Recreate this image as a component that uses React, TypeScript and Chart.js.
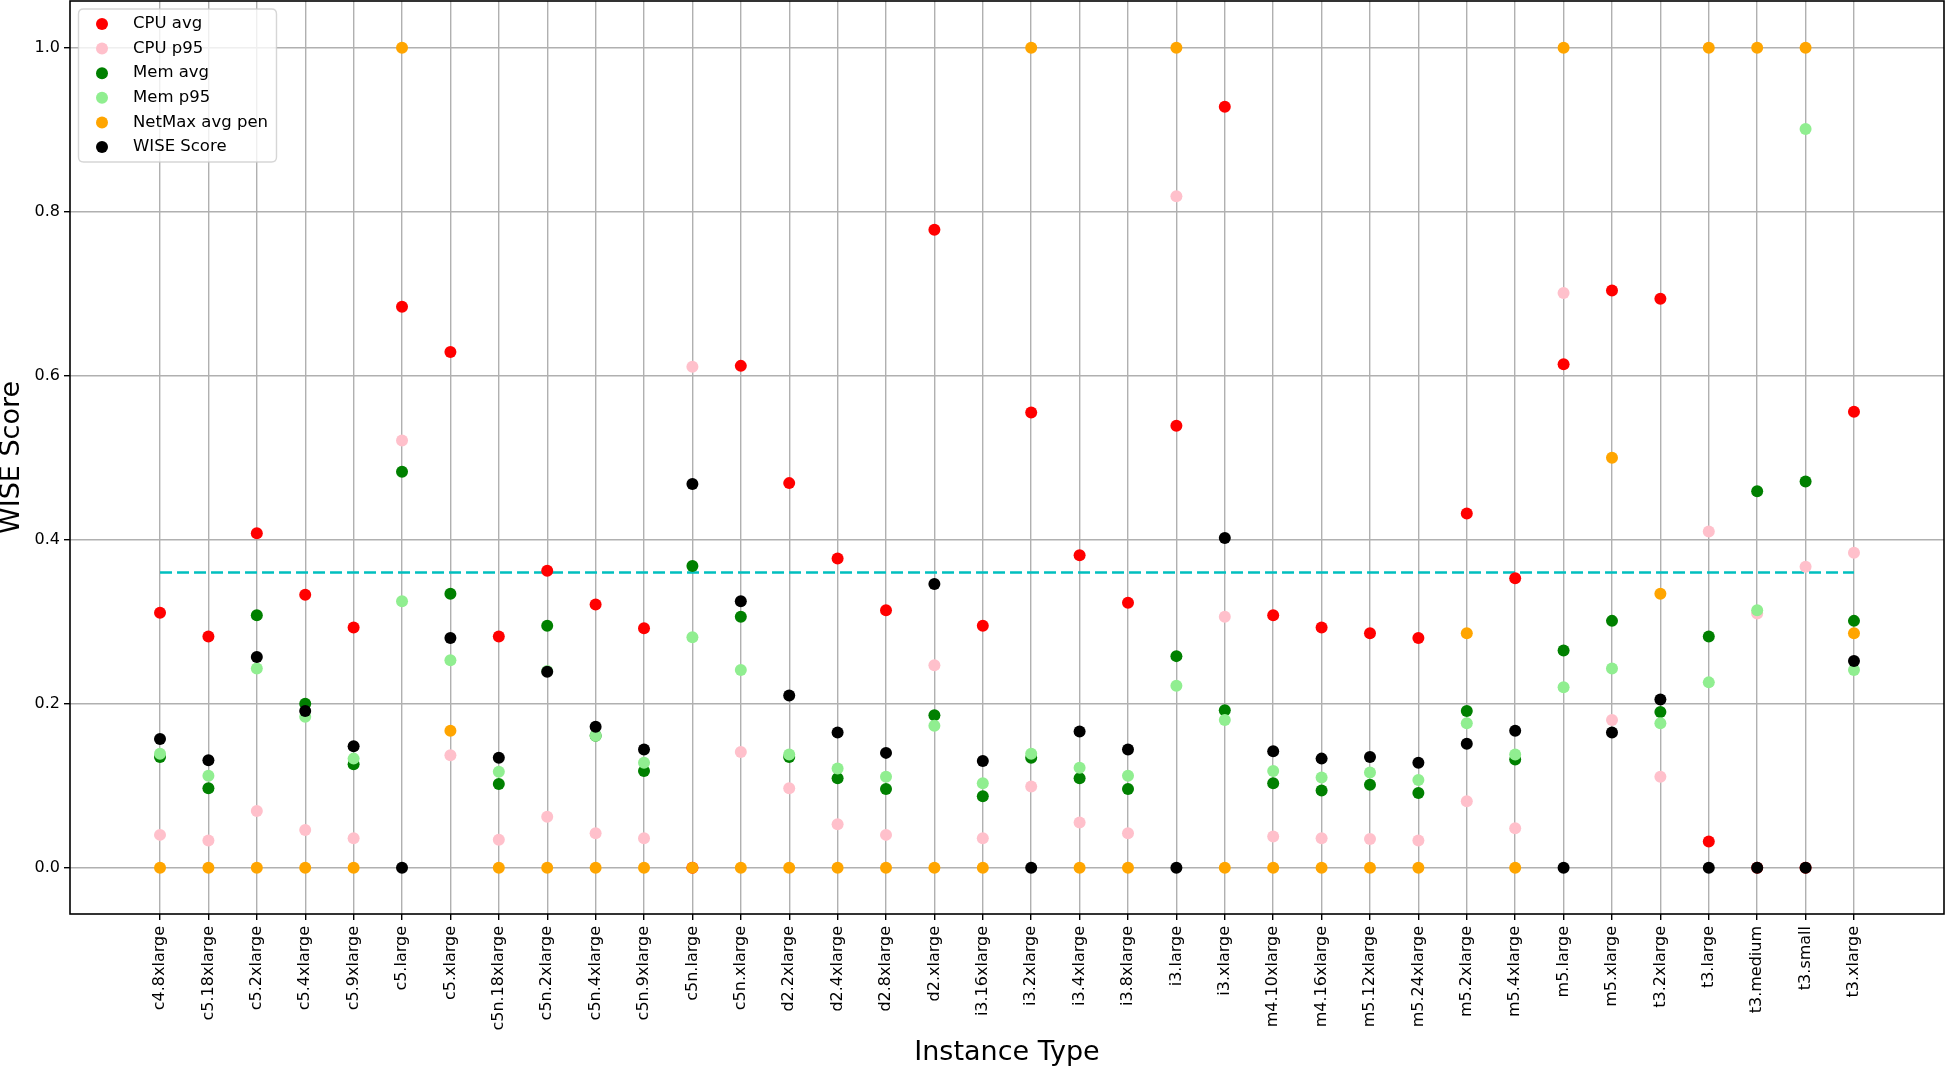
import React, { useEffect, useRef } from "react";
import { Chart, registerables } from "chart.js";

Chart.register(...registerables);

const categories = [
  "c4.8xlarge", "c5.18xlarge", "c5.2xlarge", "c5.4xlarge", "c5.9xlarge", "c5.large", "c5.xlarge",
  "c5n.18xlarge", "c5n.2xlarge", "c5n.4xlarge", "c5n.9xlarge", "c5n.large", "c5n.xlarge",
  "d2.2xlarge", "d2.4xlarge", "d2.8xlarge", "d2.xlarge", "i3.16xlarge", "i3.2xlarge", "i3.4xlarge",
  "i3.8xlarge", "i3.large", "i3.xlarge", "m4.10xlarge", "m4.16xlarge", "m5.12xlarge", "m5.24xlarge",
  "m5.2xlarge", "m5.4xlarge", "m5.large", "m5.xlarge", "t3.2xlarge", "t3.large", "t3.medium",
  "t3.small", "t3.xlarge",
];

const cpuAvg = [
  0.311, 0.282, 0.408, 0.333, 0.293, 0.684, 0.629, 0.282, 0.362, 0.321, 0.292, 0.0, 0.612,
  0.469, 0.377, 0.314, 0.778, 0.295, 0.555, 0.381, 0.323, 0.539, 0.928, 0.308, 0.293, 0.286,
  0.280, 0.432, 0.353, 0.614, 0.704, 0.694, 0.032, 0.0, 0.0, 0.556,
];

const cpuP95 = [
  0.040, 0.033, 0.069, 0.046, 0.036, 0.521, 0.137, 0.034, 0.062, 0.042, 0.036, 0.611, 0.141,
  0.097, 0.053, 0.040, 0.247, 0.036, 0.099, 0.055, 0.042, 0.819, 0.306, 0.038, 0.036, 0.035,
  0.033, 0.081, 0.048, 0.701, 0.180, 0.111, 0.410, 0.310, 0.367, 0.384,
];

const memAvg = [
  0.135, 0.097, 0.308, 0.200, 0.126, 0.483, 0.334, 0.102, 0.295, 0.161, 0.118, 0.368, 0.306,
  0.135, 0.109, 0.096, 0.186, 0.087, 0.134, 0.109, 0.096, 0.258, 0.192, 0.103, 0.094, 0.101,
  0.091, 0.191, 0.132, 0.265, 0.301, 0.190, 0.282, 0.459, 0.471, 0.301,
];

const memP95 = [
  0.139, 0.112, 0.243, 0.184, 0.133, 0.325, 0.253, 0.117, 0.240, 0.161, 0.128, 0.281, 0.241,
  0.138, 0.121, 0.111, 0.173, 0.103, 0.139, 0.122, 0.112, 0.222, 0.180, 0.118, 0.110, 0.116,
  0.107, 0.176, 0.138, 0.220, 0.243, 0.176, 0.226, 0.314, 0.901, 0.241,
];

const netMaxAvgPen = [
  0, 0, 0, 0, 0, 1.0, 0.167, 0, 0, 0, 0, 0, 0,
  0, 0, 0, 0, 0, 1.0, 0, 0, 1.0, 0, 0, 0, 0,
  0, 0.286, 0, 1.0, 0.5, 0.334, 1.0, 1.0, 1.0, 0.286,
];

const wiseScore = [
  0.157, 0.131, 0.257, 0.191, 0.148, 0.0, 0.280, 0.134, 0.239, 0.172, 0.144, 0.468, 0.325,
  0.210, 0.165, 0.140, 0.346, 0.130, 0.0, 0.166, 0.144, 0.0, 0.402, 0.142, 0.133, 0.135,
  0.128, 0.151, 0.167, 0.0, 0.165, 0.205, 0.0, 0.0, 0.0, 0.252,
];

const threshold = 0.36;
const yTicks = [0.0, 0.2, 0.4, 0.6, 0.8, 1.0];

const seriesNames = ["CPU avg", "CPU p95", "Mem avg", "Mem p95", "NetMax avg pen", "WISE Score"];
const seriesColors = ["#ff0000", "#ffc0cb", "#008000", "#90ee90", "#ffa500", "#000000"];
const seriesValues = [cpuAvg, cpuP95, memAvg, memP95, netMaxAvgPen, wiseScore];

const FONT = "'DejaVu Sans', sans-serif";

export default function App() {
  const canvasRef = useRef<HTMLCanvasElement | null>(null);

  useEffect(() => {
    document.body.style.margin = "0";
    document.body.style.overflow = "hidden";
    const canvas = canvasRef.current;
    if (!canvas) return;

    const scatterSets = seriesNames.map((name, si) => ({
      label: name,
      type: "scatter" as const,
      data: categories.map((_, i) => ({ x: i, y: seriesValues[si][i] })),
      backgroundColor: seriesColors[si],
      borderColor: seriesColors[si],
      pointRadius: 6,
      pointBorderWidth: 0,
      pointHoverRadius: 6,
      showLine: false,
      order: seriesNames.length - si,
    }));

    const lineSet = {
      label: "threshold",
      type: "line" as const,
      data: [
        { x: 0, y: threshold },
        { x: categories.length - 1, y: threshold },
      ],
      borderColor: "#00bfbf",
      borderWidth: 2.6,
      borderDash: [12, 5],
      pointRadius: 0,
      fill: false,
      showLine: true,
      order: 20,
    };

    const decor = {
      id: "decor",
      afterDraw(chart: any) {
        const ctx = chart.ctx;
        const a = chart.chartArea;
        ctx.save();
        // frame
        ctx.strokeStyle = "#000";
        ctx.lineWidth = 1.6;
        ctx.strokeRect(a.left, a.top, a.right - a.left, a.bottom - a.top);

        // legend box
        const bx = 78.5, by = 9, bw = 198, bh = 153, r = 5;
        ctx.beginPath();
        ctx.moveTo(bx + r, by);
        ctx.lineTo(bx + bw - r, by);
        ctx.quadraticCurveTo(bx + bw, by, bx + bw, by + r);
        ctx.lineTo(bx + bw, by + bh - r);
        ctx.quadraticCurveTo(bx + bw, by + bh, bx + bw - r, by + bh);
        ctx.lineTo(bx + r, by + bh);
        ctx.quadraticCurveTo(bx, by + bh, bx, by + bh - r);
        ctx.lineTo(bx, by + r);
        ctx.quadraticCurveTo(bx, by, bx + r, by);
        ctx.closePath();
        ctx.fillStyle = "rgba(255,255,255,0.8)";
        ctx.fill();
        ctx.strokeStyle = "rgba(204,204,204,0.8)";
        ctx.lineWidth = 1.4;
        ctx.stroke();

        ctx.font = `16.5px ${FONT}`;
        ctx.textBaseline = "middle";
        ctx.textAlign = "left";
        seriesNames.forEach((name, i) => {
          const yy = 24 + i * 24.6;
          ctx.beginPath();
          ctx.arc(102, yy, 6, 0, Math.PI * 2);
          ctx.fillStyle = seriesColors[i];
          ctx.fill();
          ctx.fillStyle = "#000";
          ctx.fillText(name, 133, yy);
        });

        // axis titles
        ctx.font = `27px ${FONT}`;
        ctx.fillStyle = "#000";
        ctx.textAlign = "center";
        ctx.textBaseline = "middle";
        ctx.fillText("Instance Type", (a.left + a.right) / 2, 1053);
        ctx.translate(12, (a.top + a.bottom) / 2);
        ctx.rotate(-Math.PI / 2);
        ctx.fillText("WISE Score", 0, 0);
        ctx.restore();
      },
    };

    const chart = new Chart(canvas, {
      type: "scatter",
      data: { datasets: [...scatterSets, lineSet] as any },
      options: {
        animation: false,
        responsive: false,
        events: [],
        layout: { autoPadding: false, padding: { top: 1, right: 2, left: 0, bottom: 0 } },
        plugins: { legend: { display: false }, tooltip: { enabled: false } },
        scales: {
          x: {
            type: "linear",
            min: -1.86,
            max: categories.length - 1 + 1.86,
            afterBuildTicks: (scale: any) => {
              scale.ticks = categories.map((_, i) => ({ value: i }));
            },
            afterFit: (scale: any) => {
              scale.height = 155;
              scale.paddingLeft = 0;
              scale.paddingRight = 0;
            },
            ticks: {
              autoSkip: false,
              minRotation: 90,
              maxRotation: 90,
              padding: 6,
              color: "#000",
              font: { family: FONT, size: 16 },
              callback: (v: any) => categories[Math.round(Number(v))] ?? "",
            },
            grid: {
              color: "#b0b0b0",
              lineWidth: 1.4,
              drawTicks: true,
              tickLength: 6,
              tickColor: "#000",
              tickWidth: 1.4,
            },
            border: { display: false },
          },
          y: {
            type: "linear",
            min: -0.0565,
            max: 1.057,
            afterBuildTicks: (scale: any) => {
              scale.ticks = yTicks.map((v) => ({ value: v }));
            },
            afterFit: (scale: any) => {
              scale.width = 70;
              scale.paddingTop = 0;
              scale.paddingBottom = 0;
            },
            ticks: {
              padding: 4,
              color: "#000",
              font: { family: FONT, size: 16 },
              callback: (v: any) => Number(v).toFixed(1),
            },
            grid: {
              color: "#b0b0b0",
              lineWidth: 1.4,
              drawTicks: true,
              tickLength: 6,
              tickColor: "#000",
              tickWidth: 1.4,
            },
            border: { display: false },
          },
        },
      },
      plugins: [decor],
    } as any);

    return () => chart.destroy();
  }, []);

  return (
    <div style={{ width: 1946, height: 1069 }}>
      <canvas ref={canvasRef} width={1946} height={1069} style={{ display: "block" }} />
    </div>
  );
}
